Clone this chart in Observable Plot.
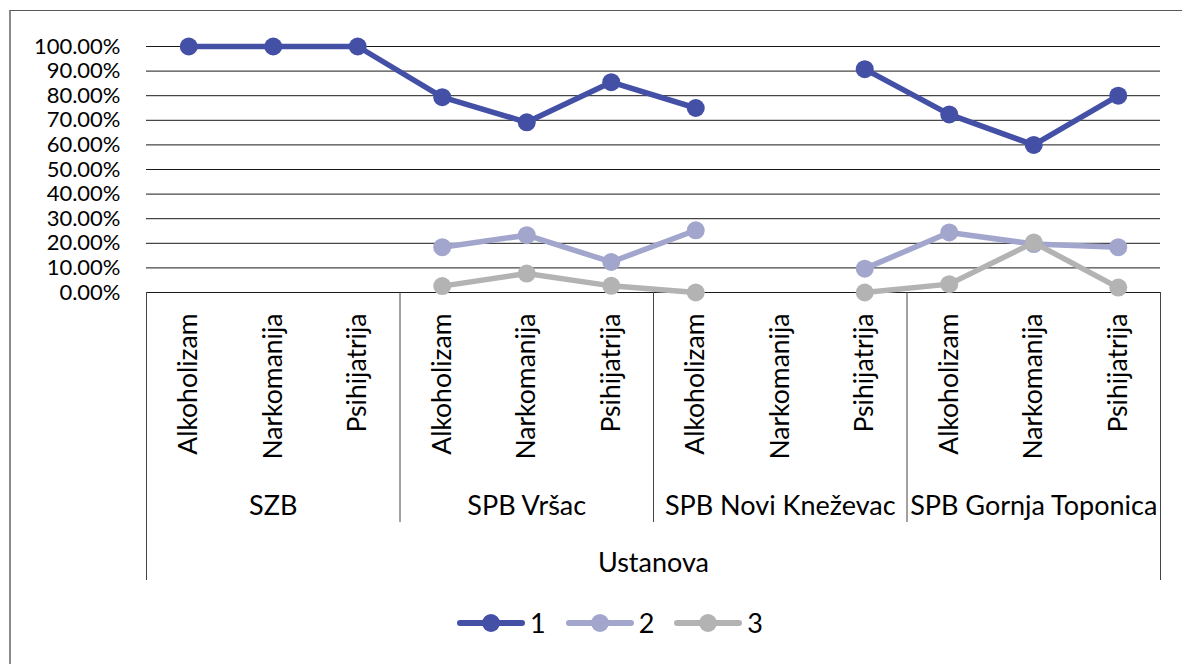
<!DOCTYPE html>
<html>
<head>
<meta charset="utf-8">
<script src="https://cdn.jsdelivr.net/npm/d3@7"></script>
<script src="https://cdn.jsdelivr.net/npm/@observablehq/plot@0.6"></script>
<style>
html,body{margin:0;padding:0;background:#fff;width:1182px;height:664px;overflow:hidden;font-family:Lato,sans-serif;}
#frame{position:absolute;left:9px;top:10px;width:1190px;height:700px;border:1px solid #595959;border-left:2px solid #8a8a8a;box-sizing:border-box;}
#chart{position:absolute;left:0;top:0;}
#legend{position:absolute;left:457px;top:606px;display:flex;align-items:center;font-family:Lato,sans-serif;font-size:27px;color:#000;}
#legend .item{display:flex;align-items:center;margin-right:20px;}
#legend .item span{margin-left:5px;line-height:34px;}
</style>
</head>
<body>
<div id="frame"></div>
<div id="chart"></div>
<div id="legend"></div>
<script>
// ---- data ----
const groups = ["SZB", "SPB Vršac", "SPB Novi Kneževac", "SPB Gornja Toponica"];
const types = ["Alkoholizam", "Narkomanija", "Psihijatrija"];
const seriesNames = ["1", "2", "3"];
const series1 = [1.00, 1.00, 1.00, 0.794, 0.692, 0.855, 0.750, null, 0.908, 0.724, 0.600, 0.800];
const series2 = [null, null, null, 0.184, 0.233, 0.124, 0.253, null, 0.097, 0.244, 0.197, 0.184];
const series3 = [null, null, null, 0.026, 0.077, 0.027, 0.000, null, 0.000, 0.034, 0.203, 0.020];
const yTicks = [0, 0.1, 0.2, 0.3, 0.4, 0.5, 0.6, 0.7, 0.8, 0.9, 1.0];
const colors = ["#4350a5", "#a2a6cd", "#b3b3b3"];

// ---- derived ----
const seriesValues = [series1, series2, series3];
const nT = types.length;
const idx = d3.range(groups.length * nT);
const catType = i => types[i % nT];
const boundaries = d3.range(groups.length + 1).map(g => g * nT - 0.5);
const outerEdges = [boundaries[0], boundaries[boundaries.length - 1]];
const groupCenters = groups.map((g, k) => k * nT + (nT - 1) / 2);
const groupLabel = c => groups[Math.round((c - (nT - 1) / 2) / nT)];
const table = seriesNames.map((s, k) => seriesValues[k].map((v, i) => ({i, series: s, value: v})));

const seriesMarks = table.flatMap((rows, k) => [
  Plot.line(rows, {x: "i", y: "value", stroke: colors[k], strokeWidth: 5.5, strokeLinejoin: "round", strokeLinecap: "round"}),
  Plot.dot(rows, {x: "i", y: "value", r: 9, fill: colors[k], stroke: "none"})
]);

const chart = Plot.plot({
  width: 1182,
  height: 600,
  marginLeft: 146,
  marginRight: 22,
  marginTop: 46,
  marginBottom: 308,
  style: {fontFamily: "Lato, sans-serif", color: "#000", background: "transparent", overflow: "visible"},
  x: {type: "linear", domain: [boundaries[0], boundaries[boundaries.length - 1]], label: null},
  y: {domain: [0, 1], label: null},
  marks: [
    Plot.gridY({ticks: yTicks.slice(1), stroke: "#1a1a1a", strokeOpacity: 1, strokeWidth: 1}),
    Plot.ruleY([0], {stroke: "#1a1a1a", strokeWidth: 1}),
    Plot.axisX({ticks: boundaries, tickSize: 230, tickFormat: () => "", stroke: "#444", label: null}),
    Plot.axisX({ticks: outerEdges, tickSize: 288, tickFormat: () => "", stroke: "#444", label: null}),
    Plot.axisX({ticks: idx, tickSize: 0, tickPadding: 21, tickRotate: -90, tickFormat: catType, fontSize: 26.5, label: null}),
    Plot.axisX({ticks: groupCenters, tickSize: 0, tickPadding: 203, tickFormat: groupLabel, fontSize: 27, label: null}),
    Plot.axisX({ticks: [(boundaries[0] + boundaries[boundaries.length - 1]) / 2], tickSize: 0, tickPadding: 260, tickFormat: () => "Ustanova", fontSize: 27, label: null}),
    Plot.axisY({ticks: yTicks, tickFormat: d3.format(".2%"), tickSize: 0, tickPadding: 26, fontSize: 22, label: null}),
    ...seriesMarks
  ]
});
document.getElementById("chart").appendChild(chart);

// ---- legend ----
const legend = document.getElementById("legend");
seriesNames.forEach((s, k) => {
  const item = document.createElement("div");
  item.className = "item";
  item.innerHTML = `<svg width="68" height="34"><line x1="3" x2="65" y1="17" y2="17" stroke="${colors[k]}" stroke-width="6" stroke-linecap="round"/><circle cx="34" cy="17" r="9" fill="${colors[k]}"/></svg><span>${s}</span>`;
  legend.appendChild(item);
});
</script>
</body>
</html>
